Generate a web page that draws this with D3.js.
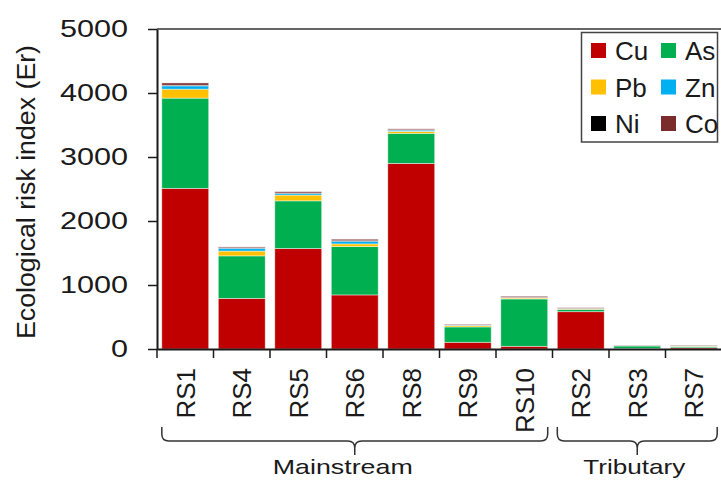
<!DOCTYPE html>
<html lang="en">
<head>
  <meta charset="UTF-8">
  <title>Ecological risk index by site</title>
  <script src="https://d3js.org/d3.v7.min.js"></script>
  <style>
    body { margin: 0; background: #fff; }
    text { font-family: "Liberation Sans", Arial, sans-serif; fill: #1a1a1a; }
  </style>
</head>
<body>
  <div id="chart"></div>

  <script>
    // Sites (in plot order) and the group each belongs to
    const sites = ["RS1", "RS4", "RS5", "RS6", "RS8", "RS9", "RS10", "RS2", "RS3", "RS7"];
    const groups = [
      { name: "Mainstream", first: "RS1", last: "RS10" },
      { name: "Tributary", first: "RS2", last: "RS7" }
    ];

    // Element contributions to Er
    const metals = ["Cu", "As", "Pb", "Zn", "Ni", "Co"];
    const cu = [2510, 790, 1570, 845, 2900, 105, 42, 583, 8, 20];
    const as = [1410, 665, 745, 755, 470, 240, 740, 37, 40, 22];
    const pb = [140, 75, 90, 42, 30, 20, 15, 8, 3, 5];
    const zn = [52, 45, 25, 42, 20, 8, 5, 5, 2, 2];
    const ni = [10, 5, 8, 8, 5, 3, 3, 3, 1, 2];
    const co = [35, 15, 20, 23, 15, 10, 18, 9, 5, 8];

    const yTicks = [0, 1000, 2000, 3000, 4000, 5000];

    // Colour palette
    const colors = {
      Cu: "#c00000", As: "#00b050", Pb: "#ffc000",
      Zn: "#00b0f0", Ni: "#000000", Co: "#7b2d2b"
    };

    const table = sites.map((s, i) => ({
      site: s, Cu: cu[i], As: as[i], Pb: pb[i], Zn: zn[i], Ni: ni[i], Co: co[i]
    }));

    const width = 721, height = 480;
    const margin = { top: 29, right: -1, bottom: 131, left: 157 };

    const svg = d3.select("#chart").append("svg")
      .attr("width", width)
      .attr("height", height);

    const x = d3.scaleBand()
      .domain(sites)
      .range([margin.left, width - margin.right])
      .paddingInner(0.17)
      .paddingOuter(0.085);

    // same bands without padding: used for the boundary ticks
    const xEdge = d3.scaleBand()
      .domain(sites)
      .range([margin.left, width - margin.right]);

    const y = d3.scaleLinear()
      .domain([0, 5000])
      .range([height - margin.bottom, margin.top]);

    // --- stacked bars ---
    const series = d3.stack().keys(metals)(table);

    svg.append("g")
      .selectAll("g")
      .data(series)
      .join("g")
      .attr("fill", (d) => colors[d.key])
      .selectAll("rect")
      .data((d) => d)
      .join("rect")
      .attr("x", (d) => x(d.data.site))
      .attr("y", (d) => y(d[1]))
      .attr("width", x.bandwidth())
      .attr("height", (d) => y(d[0]) - y(d[1]))
      .attr("stroke", "#ffffff")
      .attr("stroke-opacity", 0.55)
      .attr("stroke-width", 0.8);

    // --- y axis ---
    const yAxis = svg.append("g")
      .attr("transform", `translate(${margin.left},0)`)
      .call(d3.axisLeft(y).tickValues(yTicks).tickFormat(d3.format("d"))
        .tickSize(9).tickPadding(20).tickSizeOuter(0));

    yAxis.select(".domain").attr("stroke", "#1a1a1a").attr("stroke-width", 2);
    yAxis.selectAll(".tick line").attr("stroke", "#1a1a1a").attr("stroke-width", 1.5);
    yAxis.selectAll(".tick text")
      .style("font-size", "23px")
      .attr("textLength", (d) => String(d).length * 17)
      .attr("lengthAdjust", "spacingAndGlyphs");

    // top frame line
    svg.append("line")
      .attr("x1", margin.left).attr("x2", width - margin.right)
      .attr("y1", y(5000)).attr("y2", y(5000))
      .attr("stroke", "#333").attr("stroke-width", 1.5);

    // --- x axis ---
    const xAxis = svg.append("g")
      .attr("transform", `translate(0,${y(0)})`)
      .call(d3.axisBottom(x).tickSize(0).tickSizeOuter(0));

    xAxis.select(".domain").attr("stroke", "#1a1a1a").attr("stroke-width", 2);
    xAxis.selectAll(".tick text")
      .style("font-size", "26px")
      .attr("text-anchor", "end")
      .attr("transform", "rotate(-90)")
      .attr("x", -19)
      .attr("y", 0)
      .attr("dy", "0.36em")
      .attr("dx", 0);

    // tick marks sit on the band boundaries
    xAxis.append("g")
      .selectAll("line")
      .data(sites)
      .join("line")
      .attr("x1", (d) => xEdge(d))
      .attr("x2", (d) => xEdge(d))
      .attr("y1", 0)
      .attr("y2", 9)
      .attr("stroke", "#1a1a1a")
      .attr("stroke-width", 1.5);

    // y axis title
    svg.append("text")
      .attr("transform", `translate(35,${(y(0) + y(5000)) / 2 + 3}) rotate(-90)`)
      .attr("text-anchor", "middle")
      .style("font-size", "25px")
      .attr("textLength", 294)
      .attr("lengthAdjust", "spacingAndGlyphs")
      .text("Ecological risk index (Er)");

    // --- group braces ---
    const braceTop = 427, braceMid = 441, braceTip = 455, r = 7;
    const textShift = { Mainstream: -12, Tributary: -3 };
    const textLen = { Mainstream: 140, Tributary: 102 };

    groups.forEach((g) => {
      const x1 = x(g.first);
      const x2 = x(g.last) + x.bandwidth();
      const xm = (x1 + x2) / 2;
      const path = [
        `M${x1},${braceTop}`, `V${braceMid - r}`,
        `Q${x1},${braceMid} ${x1 + r},${braceMid}`,
        `H${xm - r}`,
        `Q${xm},${braceMid} ${xm},${braceMid + r}`,
        `V${braceTip}`,
        `M${xm},${braceMid + r}`,
        `Q${xm},${braceMid} ${xm + r},${braceMid}`,
        `H${x2 - r}`,
        `Q${x2},${braceMid} ${x2},${braceMid - r}`,
        `V${braceTop}`
      ].join("");

      svg.append("path")
        .attr("d", path)
        .attr("fill", "none")
        .attr("stroke", "#333")
        .attr("stroke-width", 1.5);

      svg.append("text")
        .attr("x", xm + textShift[g.name])
        .attr("y", 474)
        .attr("text-anchor", "middle")
        .style("font-size", "21px")
        .attr("textLength", textLen[g.name])
        .attr("lengthAdjust", "spacingAndGlyphs")
        .text(g.name);
    });

    // --- legend ---
    const legend = svg.append("g");

    legend.append("rect")
      .attr("x", 581.5).attr("y", 32.5)
      .attr("width", 136).attr("height", 109.5)
      .attr("fill", "#fff")
      .attr("stroke", "#444")
      .attr("stroke-width", 1.5);

    const item = legend.selectAll("g.item")
      .data(metals)
      .join("g")
      .attr("class", "item")
      .attr("transform", (d, i) => `translate(${591 + (i % 2) * 70},${43 + Math.floor(i / 2) * 36.5})`);

    item.append("rect")
      .attr("width", 15)
      .attr("height", 15)
      .attr("fill", (d) => colors[d]);

    item.append("text")
      .attr("x", 24)
      .attr("y", 17)
      .style("font-size", "26px")
      .text((d) => d);
  </script>
</body>
</html>
